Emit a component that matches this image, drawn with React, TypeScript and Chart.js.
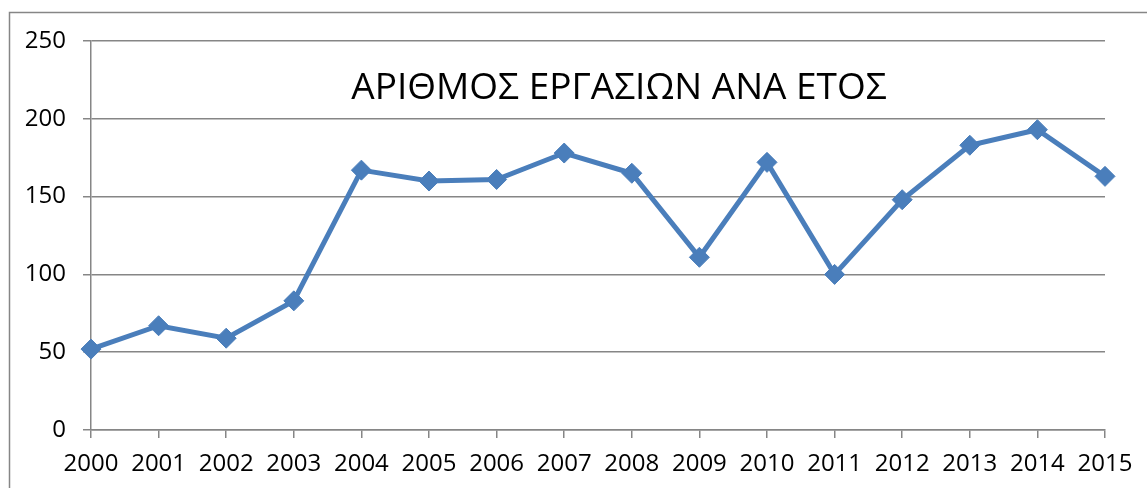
import React, { useEffect, useRef } from "react";
import { Chart, registerables } from "chart.js";

Chart.register(...registerables);

const years = ["2000", "2001", "2002", "2003", "2004", "2005", "2006", "2007", "2008", "2009", "2010", "2011", "2012", "2013", "2014", "2015"];
const works = [52, 67, 59, 83, 167, 160, 161, 178, 165, 111, 172, 100, 148, 183, 193, 163];
const chartTitle = "ΑΡΙΘΜΟΣ ΕΡΓΑΣΙΩΝ ΑΝΑ ΕΤΟΣ";
const yMin = 0;
const yMax = 250;
const yStep = 50;

const GRID = "#868686";
const LINE = "#4A7EBB";
const FONT = "'Open Sans', 'Noto Sans', sans-serif";

const decorPlugin = {
  id: "decor",
  beforeDraw(chart: any) {
    const ctx = chart.ctx;
    ctx.save();
    ctx.fillStyle = "#ffffff";
    ctx.fillRect(0, 0, chart.width, chart.height);
    ctx.strokeStyle = GRID;
    ctx.lineWidth = 1.5;
    ctx.beginPath();
    ctx.moveTo(9.5, chart.height + 5);
    ctx.lineTo(9.5, 12.5);
    ctx.lineTo(chart.width + 5, 12.5);
    ctx.stroke();
    ctx.restore();
  },
  afterDatasetsDraw(chart: any) {
    const ctx = chart.ctx;
    const area = chart.chartArea;
    ctx.save();
    ctx.fillStyle = "#000000";
    ctx.font = `37px ${FONT}`;
    ctx.textAlign = "center";
    ctx.textBaseline = "middle";
    ctx.fillText(chartTitle, (area.left + area.right) / 2 + 21, 88);
    ctx.restore();
  },
};

export default function App() {
  const ref = useRef<HTMLCanvasElement | null>(null);
  useEffect(() => {
    if (!ref.current) return;
    const chart = new Chart(ref.current, {
      type: "line",
      data: {
        labels: years,
        datasets: [
          {
            data: works,
            borderColor: LINE,
            backgroundColor: LINE,
            borderWidth: 5,
            pointStyle: "rectRot",
            pointRadius: 10,
            pointBorderWidth: 1,
            pointBackgroundColor: LINE,
            pointBorderColor: LINE,
            tension: 0,
          },
        ],
      },
      options: {
        responsive: false,
        animation: false,
        layout: { padding: { left: 0, right: 42, top: 41, bottom: 0 } },
        plugins: { legend: { display: false }, tooltip: { enabled: false }, title: { display: false } },
        scales: {
          x: {
            offset: false,
            grid: { drawOnChartArea: false, drawTicks: true, tickLength: 8, color: GRID, lineWidth: 1.5 },
            border: { display: true, color: GRID, width: 1.5 },
            ticks: { color: "#000", font: { family: FONT, size: 24 }, padding: 12, maxRotation: 0, autoSkip: false },
            afterFit: (s: any) => { s.height = 58; },
          },
          y: {
            min: yMin,
            max: yMax,
            grid: { color: GRID, lineWidth: 1.5, tickLength: 8, drawTicks: true },
            border: { display: true, color: GRID, width: 1.5 },
            ticks: { stepSize: yStep, color: "#000", font: { family: FONT, size: 24 }, padding: 17 },
            afterFit: (s: any) => { s.width = 91; },
          },
        },
      },
      plugins: [decorPlugin],
    });
    return () => chart.destroy();
  }, []);
  return (
    <div style={{ position: "absolute", left: 0, top: 0, width: 1147, height: 488, background: "#fff" }}>
      <canvas ref={ref} width={1147} height={488} style={{ display: "block" }} />
    </div>
  );
}
